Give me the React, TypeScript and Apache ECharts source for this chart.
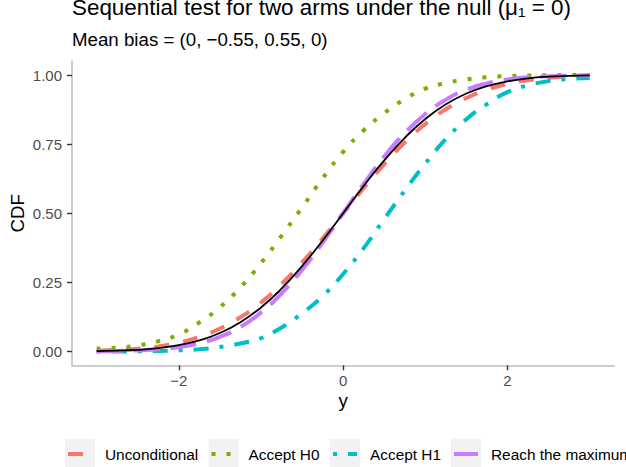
import React, { useEffect, useRef } from "react";
import * as echarts from "echarts";

const xGrid = [-3, -2.75, -2.5, -2.25, -2, -1.75, -1.5, -1.25, -1, -0.75, -0.5, -0.25, 0, 0.25, 0.5, 0.75, 1, 1.25, 1.5, 1.75, 2, 2.25, 2.5, 2.75, 3];
const unconditional = [0.003, 0.006, 0.01, 0.018, 0.032, 0.053, 0.083, 0.124, 0.177, 0.244, 0.322, 0.409, 0.5, 0.591, 0.678, 0.756, 0.823, 0.876, 0.917, 0.947, 0.968, 0.981, 0.99, 0.995, 0.997];
const acceptH0 = [0.011, 0.014, 0.022, 0.037, 0.062, 0.105, 0.16, 0.232, 0.32, 0.418, 0.521, 0.626, 0.722, 0.8, 0.862, 0.913, 0.951, 0.971, 0.984, 0.992, 0.996, 0.998, 0.999, 1.0, 1.0];
const acceptH1 = [0.0, 0.0, 0.001, 0.002, 0.004, 0.008, 0.016, 0.029, 0.048, 0.087, 0.138, 0.2, 0.28, 0.374, 0.479, 0.582, 0.68, 0.768, 0.84, 0.895, 0.938, 0.963, 0.978, 0.986, 0.989];
const reachMaximum = [0.001, 0.002, 0.004, 0.008, 0.016, 0.03, 0.053, 0.089, 0.141, 0.21, 0.295, 0.394, 0.5, 0.606, 0.705, 0.79, 0.859, 0.911, 0.947, 0.97, 0.984, 0.992, 0.996, 0.998, 0.999];
const normalRef = [0.001, 0.003, 0.006, 0.012, 0.023, 0.04, 0.067, 0.106, 0.159, 0.227, 0.309, 0.401, 0.5, 0.599, 0.691, 0.773, 0.841, 0.894, 0.933, 0.96, 0.977, 0.988, 0.994, 0.997, 0.999];

const seriesNames = ["Unconditional", "Accept H0", "Accept H1", "Reach the maximum"];
const xTicks = [-2, 0, 2];
const yTicks = [0, 0.25, 0.5, 0.75, 1];
const titleText = "Sequential test for two arms under the null (μ₁ = 0)";
const subtitleText = "Mean bias = (0, −0.55, 0.55, 0)";
const xTitle = "y";
const yTitle = "CDF";

const FONT = "'Liberation Sans', Arial, Helvetica, sans-serif";
const colors = ["#F8766D", "#7CAE00", "#00BFC4", "#C77CFF"];
const dashes = [[15, 14], [4, 11], [4, 11, 15, 11], [26, 11]];
const legendBoxX = [65, 208.5, 330, 451];

export default function App() {
  const ref = useRef<HTMLDivElement>(null);
  useEffect(() => {
    if (!ref.current) return;
    const chart = echarts.init(ref.current, null, { renderer: "svg" });
    const values = [unconditional, acceptH0, acceptH1, reachMaximum];
    const toPairs = (arr: number[]) => arr.map((v, i) => [xGrid[i], v]);
    const series: any[] = values.map((arr, i) => ({
      name: seriesNames[i],
      type: "line",
      data: toPairs(arr),
      showSymbol: false,
      symbol: "none",
      smooth: 0.5,
      color: colors[i],
      lineStyle: { color: colors[i], width: 4, type: dashes[i], cap: "butt" },
      z: 2 + i,
    }));
    series.push({
      name: "N(0,1)",
      type: "line",
      data: toPairs(normalRef),
      showSymbol: false,
      symbol: "none",
      smooth: 0.5,
      color: "#000000",
      lineStyle: { color: "#000000", width: 1.8, type: "solid" },
      z: 10,
    });

    const legends = seriesNames.map((n, i) => ({
      show: true,
      left: legendBoxX[i],
      top: 439,
      padding: 0,
      orient: "horizontal",
      itemWidth: 30,
      itemHeight: 30,
      icon: "rect",
      selectedMode: false,
      itemStyle: { color: "#F2F2F2", borderWidth: 0 },
      textStyle: { fontSize: 15.4, color: "#000000", fontFamily: FONT, padding: [0, 0, 0, 5] },
      data: [n],
    }));

    const keyLines = seriesNames.map((n, i) => ({
      type: "line",
      z: 100,
      shape: { x1: legendBoxX[i] + 3, y1: 454, x2: legendBoxX[i] + 27, y2: 454 },
      style: { stroke: colors[i], lineWidth: 4, lineDash: dashes[i], lineCap: "butt" },
    }));

    chart.setOption({
      animation: false,
      backgroundColor: "#FFFFFF",
      textStyle: { fontFamily: FONT },
      grid: { left: 72, right: 11.7, top: 61.2, bottom: 101.7, containLabel: false, outerBoundsMode: "none" },
      legend: legends,
      graphic: [
        {
          type: "text",
          left: 72,
          top: -4,
          style: { text: titleText, fontSize: 22.4, fill: "#000000", fontFamily: FONT },
        },
        {
          type: "text",
          left: 72,
          top: 30,
          style: { text: subtitleText, fontSize: 18.7, fill: "#000000", fontFamily: FONT },
        },
        ...keyLines,
      ],
      xAxis: {
        type: "value",
        min: -3.3,
        max: 3.3,
        name: xTitle,
        nameLocation: "middle",
        nameGap: 26,
        nameMoveOverlap: false,
        nameTextStyle: { fontSize: 18.7, color: "#000000", fontFamily: FONT },
        axisLine: { show: true, onZero: false, lineStyle: { color: "#BEBEBE", width: 1.5 } },
        axisTick: { show: true, length: 5, customValues: xTicks, lineStyle: { color: "#333333", width: 1.4 } },
        axisLabel: {
          show: true,
          margin: 8,
          customValues: xTicks,
          fontSize: 15,
          color: "#4D4D4D",
          fontFamily: FONT,
          formatter: (v: number) => (v < 0 ? "\u2212" + Math.abs(v) : String(v)),
        },
        splitLine: { show: false },
      },
      yAxis: {
        type: "value",
        min: -0.05,
        max: 1.05,
        name: yTitle,
        nameLocation: "middle",
        nameGap: 45,
        nameMoveOverlap: false,
        nameRotate: 90,
        nameTextStyle: { fontSize: 18.7, color: "#000000", fontFamily: FONT },
        axisLine: { show: true, onZero: false, lineStyle: { color: "#BEBEBE", width: 1.5 } },
        axisTick: { show: true, length: 5, customValues: yTicks, lineStyle: { color: "#333333", width: 1.4 } },
        axisLabel: {
          show: true,
          margin: 10,
          customValues: yTicks,
          fontSize: 15,
          color: "#4D4D4D",
          fontFamily: FONT,
          formatter: (v: number) => v.toFixed(2),
        },
        splitLine: { show: false },
      },
      series,
    });
    return () => chart.dispose();
  }, []);
  return (
    <div
      ref={ref}
      style={{ position: "fixed", left: 0, top: 0, width: 626, height: 467, background: "#fff" }}
    />
  );
}
